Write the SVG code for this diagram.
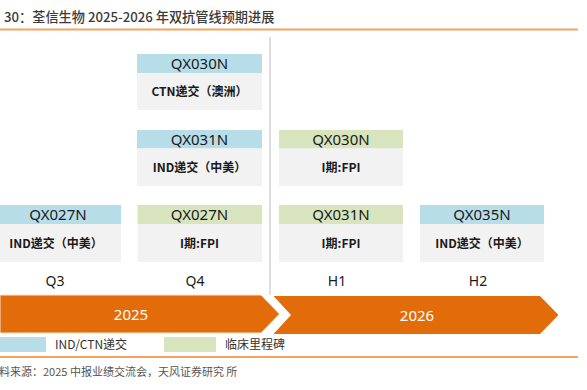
<svg xmlns="http://www.w3.org/2000/svg" width="587" height="390" viewBox="0 0 587 390">
<style>
text{font-family:"Liberation Sans","Noto Sans CJK SC",sans-serif;}
.title{font-family:"Noto Sans CJK SC",sans-serif;font-size:13.2px;font-weight:500;fill:#3a3a3a;}
.hb{fill:#b7dde8;}
.hg{fill:#d7e4bd;}
.body{fill:#f2f2f2;}
.hd{font-family:"Noto Sans",sans-serif;font-size:15px;fill:#1a1a1a;text-anchor:middle;}
.bt{font-family:"Noto Sans CJK SC",sans-serif;font-size:12px;font-weight:bold;fill:#1a1a1a;text-anchor:middle;}
.per{font-family:"Noto Sans",sans-serif;font-size:14px;fill:#1a1a1a;text-anchor:middle;}
.arrow{fill:#e36c0a;}
.yr{font-family:"Noto Sans",sans-serif;font-size:15px;fill:#ffffff;text-anchor:middle;}
.leg{font-family:"Noto Sans CJK SC",sans-serif;font-size:12px;fill:#333;}
.src{font-family:"Noto Sans CJK SC",sans-serif;font-size:11px;fill:#555;}
.rule{stroke:#f4a460;stroke-width:2;}
</style>
<text class="title" x="4" y="22">30：荃信生物 2025-2026 年双抗管线预期进展</text>
<line class="rule" x1="0" y1="29.5" x2="578" y2="29.5"/>
<line x1="270" y1="37" x2="270" y2="295" stroke="#c8c8c8" stroke-width="1.2"/>

<g id="q4-qx030n">
<rect class="hb" x="137" y="54" width="125" height="19"/>
<rect class="body" x="137" y="73" width="125" height="37"/>
<text class="hd" x="199.5" y="69">QX030N</text>
<text class="bt" x="199.5" y="96">CTN递交（澳洲）</text>
</g>
<g id="q4-qx031n">
<rect class="hb" x="137" y="130" width="125" height="18.5"/>
<rect class="body" x="137" y="148.5" width="125" height="37.5"/>
<text class="hd" x="199.5" y="144.5">QX031N</text>
<text class="bt" x="199.5" y="171.5">IND递交（中美）</text>
</g>
<g id="q3-qx027n">
<rect class="hb" x="0" y="205" width="121" height="19"/>
<rect class="body" x="0" y="224" width="121" height="38"/>
<text class="hd" x="58" y="220">QX027N</text>
<text class="bt" x="56" y="247.5">IND递交（中美）</text>
</g>
<g id="q4-qx027n">
<rect class="hg" x="137.5" y="205" width="124.5" height="19"/>
<rect class="body" x="137.5" y="224" width="124.5" height="38"/>
<text class="hd" x="199.5" y="220">QX027N</text>
<text class="bt" x="199.5" y="247.5">I期:FPI</text>
</g>
<g id="h1-qx030n">
<rect class="hg" x="279" y="130" width="124" height="18.5"/>
<rect class="body" x="279" y="148.5" width="124" height="37.5"/>
<text class="hd" x="341" y="144.5">QX030N</text>
<text class="bt" x="341" y="171.5">I期:FPI</text>
</g>
<g id="h1-qx031n">
<rect class="hg" x="279" y="205" width="124" height="19"/>
<rect class="body" x="279" y="224" width="124" height="38"/>
<text class="hd" x="341" y="220">QX031N</text>
<text class="bt" x="341" y="247.5">I期:FPI</text>
</g>
<g id="h2-qx035n">
<rect class="hb" x="420" y="205" width="124" height="19"/>
<rect class="body" x="420" y="224" width="124" height="38"/>
<text class="hd" x="482" y="220">QX035N</text>
<text class="bt" x="482" y="247.5">IND递交（中美）</text>
</g>

<text class="per" x="55" y="286">Q3</text>
<text class="per" x="195" y="286">Q4</text>
<text class="per" x="337" y="286">H1</text>
<text class="per" x="478" y="286">H2</text>

<g id="arrow-2025">
<polygon class="arrow" points="0,295 261,295 279.5,314 261,333 0,333" stroke="#fbe3d0" stroke-width="1"/>
<text class="yr" x="131" y="319.5">2025</text>
</g>
<g id="arrow-2026">
<polygon class="arrow" points="273.5,296 540,296 558.5,315 540,334 273.5,334 291,315"/>
<text class="yr" x="417" y="321">2026</text>
</g>

<g id="legend">
<rect class="hb" x="0" y="337" width="46" height="15"/>
<text class="leg" x="55" y="349">IND/CTN递交</text>
<rect class="hg" x="164" y="337" width="52" height="15"/>
<text class="leg" x="225" y="349">临床里程碑</text>
</g>
<line class="rule" x1="0" y1="357" x2="578" y2="357"/>
<text class="src" x="-1" y="376">料来源：2025 中报业绩交流会，天风证券研究 所</text>
</svg>
